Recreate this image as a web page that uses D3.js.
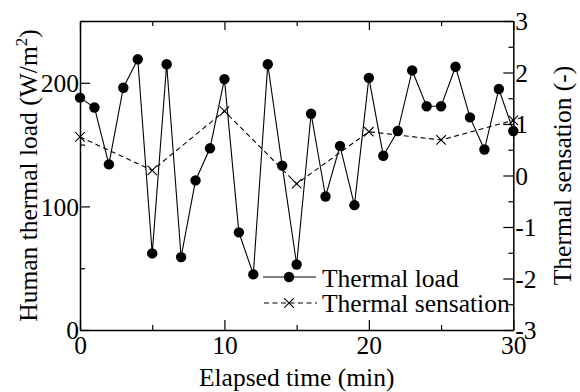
<!DOCTYPE html>
<html>
<head>
<meta charset="utf-8">
<script src="https://cdn.jsdelivr.net/npm/d3@7"></script>
<style>
  html, body { margin: 0; padding: 0; background: #fff; }
  svg { display: block; }
</style>
</head>
<body>
<div id="chart"></div>
<script>
// elapsed minutes for the thermal load samples
const loadMinutes = [0, 1, 2, 3, 4, 5, 6, 7, 8, 9, 10, 11, 12, 13, 14, 15, 16, 17, 18, 19, 20, 21, 22, 23, 24, 25, 26, 27, 28, 29, 30];
const thermalLoad = [188, 180, 134, 196, 219, 62, 215, 59, 121, 147, 203, 79, 45, 215, 133, 53, 175, 108, 149, 101, 204, 141, 161, 210, 181, 181, 213, 172, 146, 195, 161];

const sensationMinutes = [0, 5, 10, 15, 20, 25, 30];
const thermalSensation = [0.75, 0.1, 1.25, -0.16, 0.85, 0.69, 1.07];

const xTicks = [0, 10, 20, 30];
const xMinorTicks = [5, 15, 25];
const leftTicks = [0, 100, 200];
const leftMinorTicks = [50, 150, 250];
const rightTicks = [-3, -2, -1, 0, 1, 2, 3];
const rightMinorTicks = [-2.5, -1.5, -0.5, 0.5, 1.5, 2.5];

const W = 580, H = 392;
const margin = { top: 21, right: 66.7, bottom: 62, left: 80 };
const fontSize = 25.5;
const serif = '"Liberation Serif", "Times New Roman", serif';

const svg = d3.select('#chart').append('svg')
  .attr('width', W)
  .attr('height', H)
  .attr('font-family', serif);

const x = d3.scaleLinear().domain([0, 30]).range([margin.left, W - margin.right]);
const yLoad = d3.scaleLinear().domain([0, 250]).range([H - margin.bottom, margin.top]);
const ySens = d3.scaleLinear().domain([-3, 3]).range([H - margin.bottom, margin.top]);

const x0 = x.range()[0], x1 = x.range()[1];
const yB = yLoad.range()[0], yT = yLoad.range()[1];

function styleAxis(g) {
  g.attr('font-family', serif).attr('font-size', fontSize);
  g.selectAll('path.domain').attr('stroke', '#000').attr('stroke-width', 1.5);
  g.selectAll('.tick line').attr('stroke', '#000').attr('stroke-width', 1.2);
  g.selectAll('text').attr('fill', '#000');
}

// bottom axis
svg.append('g')
  .attr('transform', `translate(0,${yB})`)
  .call(d3.axisBottom(x).tickValues(xTicks).tickSize(-10).tickSizeOuter(0).tickPadding(0))
  .call(styleAxis)
  .call(g => g.selectAll('text').attr('dy', null).attr('y', 23.5));
svg.append('g')
  .attr('transform', `translate(0,${yB})`)
  .call(d3.axisBottom(x).tickValues(xMinorTicks).tickSize(-5).tickFormat(''))
  .call(styleAxis)
  .call(g => g.select('path.domain').remove());

// top axis (ticks only)
svg.append('g')
  .attr('transform', `translate(0,${yT})`)
  .call(d3.axisTop(x).tickValues(xTicks).tickSize(-9).tickSizeOuter(0).tickFormat(''))
  .call(styleAxis);
svg.append('g')
  .attr('transform', `translate(0,${yT})`)
  .call(d3.axisTop(x).tickValues(xMinorTicks).tickSize(-5).tickFormat(''))
  .call(styleAxis)
  .call(g => g.select('path.domain').remove());

// left axis
svg.append('g')
  .attr('transform', `translate(${x0},0)`)
  .call(d3.axisLeft(yLoad).tickValues(leftTicks).tickSize(-10).tickSizeOuter(0).tickPadding(1))
  .call(styleAxis)
  .call(g => g.selectAll('text').attr('dy', '0.34em'));
svg.append('g')
  .attr('transform', `translate(${x0},0)`)
  .call(d3.axisLeft(yLoad).tickValues(leftMinorTicks).tickSize(-5).tickFormat(''))
  .call(styleAxis)
  .call(g => g.select('path.domain').remove());

// right axis
svg.append('g')
  .attr('transform', `translate(${x1},0)`)
  .call(d3.axisRight(ySens).tickValues(rightTicks).tickSize(-10).tickSizeOuter(0).tickPadding(2)
    .tickFormat(d => String(d)))
  .call(styleAxis)
  .call(g => g.selectAll('text').attr('dy', '0.34em'));
svg.append('g')
  .attr('transform', `translate(${x1},0)`)
  .call(d3.axisRight(ySens).tickValues(rightMinorTicks).tickSize(-5).tickFormat(''))
  .call(styleAxis)
  .call(g => g.select('path.domain').remove());

// thermal sensation (dashed, crosses)
const sensData = sensationMinutes.map((t, i) => ({ t, v: thermalSensation[i] }));
svg.append('path')
  .datum(sensData)
  .attr('fill', 'none')
  .attr('stroke', '#000')
  .attr('stroke-width', 1.1)
  .attr('stroke-dasharray', '5,3.5')
  .attr('d', d3.line().x(d => x(d.t)).y(d => ySens(d.v)));

const crossPath = d3.symbol().type(d3.symbolX).size(60);
svg.append('g').selectAll('path')
  .data(sensData)
  .join('path')
  .attr('transform', d => `translate(${x(d.t)},${ySens(d.v)})`)
  .attr('d', crossPath)
  .attr('fill', 'none')
  .attr('stroke', '#000')
  .attr('stroke-width', 1.1);

// thermal load (solid, filled circles)
const loadData = loadMinutes.map((t, i) => ({ t, v: thermalLoad[i] }));
svg.append('path')
  .datum(loadData)
  .attr('fill', 'none')
  .attr('stroke', '#000')
  .attr('stroke-width', 1.1)
  .attr('d', d3.line().x(d => x(d.t)).y(d => yLoad(d.v)));

svg.append('g').selectAll('circle')
  .data(loadData)
  .join('circle')
  .attr('cx', d => x(d.t))
  .attr('cy', d => yLoad(d.v))
  .attr('r', 5.2)
  .attr('fill', '#000');

// axis titles
svg.append('text')
  .attr('transform', `translate(37,${(yT + yB) / 2}) rotate(-90)`)
  .attr('text-anchor', 'middle')
  .attr('font-size', fontSize)
  .html('Human thermal load (W/m<tspan dy="-10" font-size="17">2</tspan><tspan dy="10">)</tspan>');

svg.append('text')
  .attr('transform', `translate(571,${(yT + yB) / 2}) rotate(-90)`)
  .attr('text-anchor', 'middle')
  .attr('font-size', fontSize)
  .text('Thermal sensation (-)');

svg.append('text')
  .attr('x', (x0 + x1) / 2)
  .attr('y', 386)
  .attr('text-anchor', 'middle')
  .attr('font-size', fontSize)
  .text('Elapsed time (min)');

// legend
const legend = svg.append('g').attr('transform', 'translate(263,277)');
legend.append('line')
  .attr('x1', 0).attr('x2', 53).attr('y1', 0).attr('y2', 0)
  .attr('stroke', '#000').attr('stroke-width', 1.1);
legend.append('circle').attr('cx', 26).attr('cy', 0).attr('r', 5.2).attr('fill', '#000');
legend.append('text').attr('x', 59).attr('y', 9.5)
  .attr('font-size', fontSize).text('Thermal load');

legend.append('line')
  .attr('x1', 1).attr('x2', 54).attr('y1', 26).attr('y2', 26)
  .attr('stroke', '#000').attr('stroke-width', 1.1)
  .attr('stroke-dasharray', '5,3.5');
legend.append('path')
  .attr('transform', 'translate(26,26)')
  .attr('d', crossPath)
  .attr('fill', 'none').attr('stroke', '#000').attr('stroke-width', 1.1);
legend.append('text').attr('x', 59).attr('y', 34.5)
  .attr('font-size', fontSize).text('Thermal sensation');
</script>
</body>
</html>
